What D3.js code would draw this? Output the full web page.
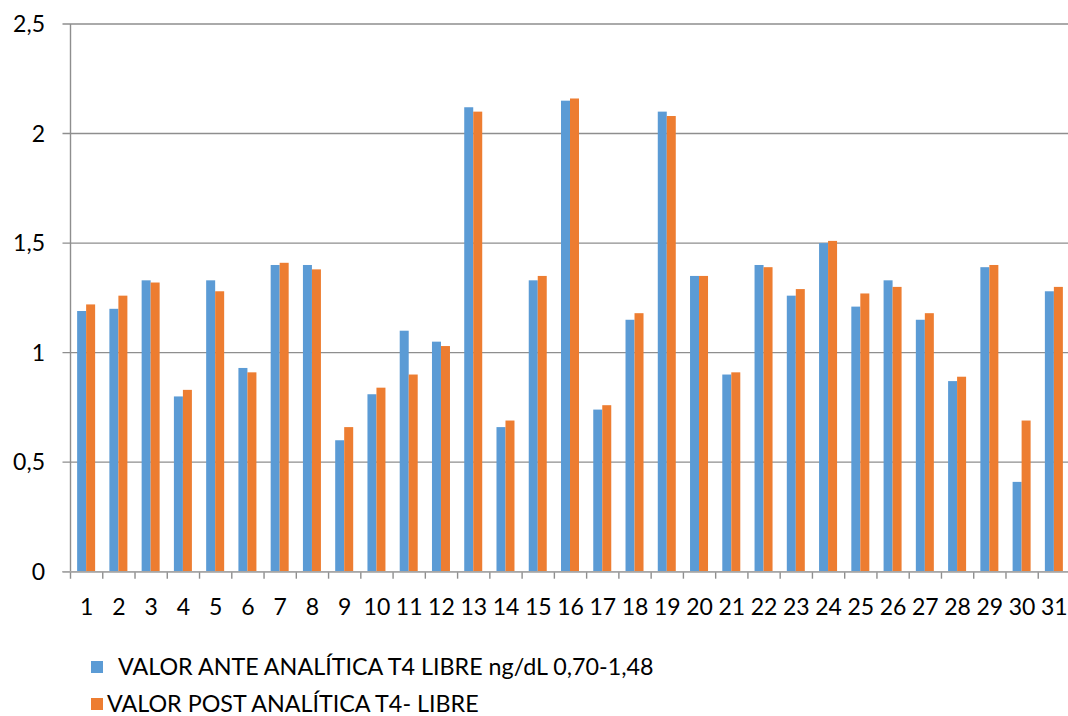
<!DOCTYPE html>
<html>
<head>
<meta charset="utf-8">
<script src="https://cdn.jsdelivr.net/npm/d3@7"></script>
<style>
  html, body { margin: 0; padding: 0; background: #fff; }
  svg { display: block; }
  text { font-family: Lato, "Open Sans", sans-serif; fill: #000; }
</style>
</head>
<body>
<svg id="chart" width="1068" height="716"></svg>
<script>
// Patient numbers
const categories = d3.range(1, 32).map(String);

// Free T4 before and after (ng/dL)
const anteValues = [1.19, 1.20, 1.33, 0.80, 1.33, 0.93, 1.40, 1.40, 0.60, 0.81,
                    1.10, 1.05, 2.12, 0.66, 1.33, 2.15, 0.74, 1.15, 2.10, 1.35,
                    0.90, 1.40, 1.26, 1.50, 1.21, 1.33, 1.15, 0.87, 1.39, 0.41, 1.28];
const postValues = [1.22, 1.26, 1.32, 0.83, 1.28, 0.91, 1.41, 1.38, 0.66, 0.84,
                    0.90, 1.03, 2.10, 0.69, 1.35, 2.16, 0.76, 1.18, 2.08, 1.35,
                    0.91, 1.39, 1.29, 1.51, 1.27, 1.30, 1.18, 0.89, 1.40, 0.69, 1.30];

const seriesNames = ["VALOR ANTE ANALÍTICA T4 LIBRE ng/dL 0,70-1,48",
                     "VALOR POST ANALÍTICA T4- LIBRE"];
const seriesColors = ["#5B9BD5", "#ED7D31"];
const yTicks = [0, 0.5, 1, 1.5, 2, 2.5];
const yTickLabels = ["0", "0,5", "1", "1,5", "2", "2,5"];

const svg = d3.select("#chart");

const plotLeft = 70.5, plotRight = 1070.5, plotTop = 24, plotBottom = 571.7;

const x = d3.scaleBand().domain(categories).range([plotLeft, plotRight]).padding(0);
const bw = x.bandwidth();
const pairW = 18;
const x1 = d3.scaleBand().domain([0, 1]).range([(bw - pairW) / 2 - 0.5, (bw + pairW) / 2 - 0.5]);
const y = d3.scaleLinear().domain([0, 2.5]).range([plotBottom, plotTop]);

const gridColor = "#8e8e8e";

// Horizontal gridlines with short ticks left of the axis
svg.append("g")
  .selectAll("line")
  .data(yTicks)
  .join("line")
  .attr("x1", plotLeft - 8)
  .attr("x2", 1068)
  .attr("y1", d => y(d))
  .attr("y2", d => y(d))
  .attr("stroke", gridColor)
  .attr("stroke-width", 1.4);

// Vertical axis line
svg.append("line")
  .attr("x1", plotLeft).attr("x2", plotLeft)
  .attr("y1", plotTop).attr("y2", plotBottom + 7)
  .attr("stroke", gridColor).attr("stroke-width", 1.4);

// Category tick marks below the baseline
svg.append("g")
  .selectAll("line")
  .data(categories.slice(1))
  .join("line")
  .attr("x1", d => x(d)).attr("x2", d => x(d))
  .attr("y1", plotBottom).attr("y2", plotBottom + 7)
  .attr("stroke", gridColor).attr("stroke-width", 1.4);

// Y tick labels
svg.append("g")
  .selectAll("text")
  .data(yTicks)
  .join("text")
  .attr("x", 45)
  .attr("y", d => y(d))
  .attr("dy", "0.36em")
  .attr("text-anchor", "end")
  .attr("font-size", 23)
  .text((d, i) => yTickLabels[i]);

// Bars
const groups = svg.append("g")
  .selectAll("g")
  .data(categories)
  .join("g")
  .attr("transform", d => `translate(${x(d)},0)`);

groups.selectAll("rect")
  .data((d, i) => [anteValues[i], postValues[i]])
  .join("rect")
  .attr("x", (d, j) => x1(j))
  .attr("width", x1.bandwidth())
  .attr("y", d => y(d))
  .attr("height", d => y(0) - y(d))
  .attr("fill", (d, j) => seriesColors[j]);

// Baseline drawn over the bars
svg.append("line")
  .attr("x1", plotLeft - 8).attr("x2", 1068)
  .attr("y1", plotBottom).attr("y2", plotBottom)
  .attr("stroke", "#a6a6a6").attr("stroke-width", 1.6);

// X category labels
svg.append("g")
  .selectAll("text")
  .data(categories)
  .join("text")
  .attr("x", d => x(d) + bw / 2)
  .attr("y", 607)
  .attr("dy", "0.36em")
  .attr("text-anchor", "middle")
  .attr("font-size", 23)
  .text(d => d);

// Legend
const legend = svg.append("g")
  .selectAll("g")
  .data(seriesNames)
  .join("g")
  .attr("transform", (d, i) => `translate(91,${667 + i * 37})`);

legend.append("rect")
  .attr("x", 0).attr("y", -6)
  .attr("width", 12).attr("height", 12)
  .attr("fill", (d, i) => seriesColors[i]);

legend.append("text")
  .attr("x", (d, i) => i === 0 ? 27 : 16)
  .attr("y", 0)
  .attr("dy", "0.36em")
  .attr("font-size", 23.3)
  .text(d => d);
</script>
</body>
</html>
